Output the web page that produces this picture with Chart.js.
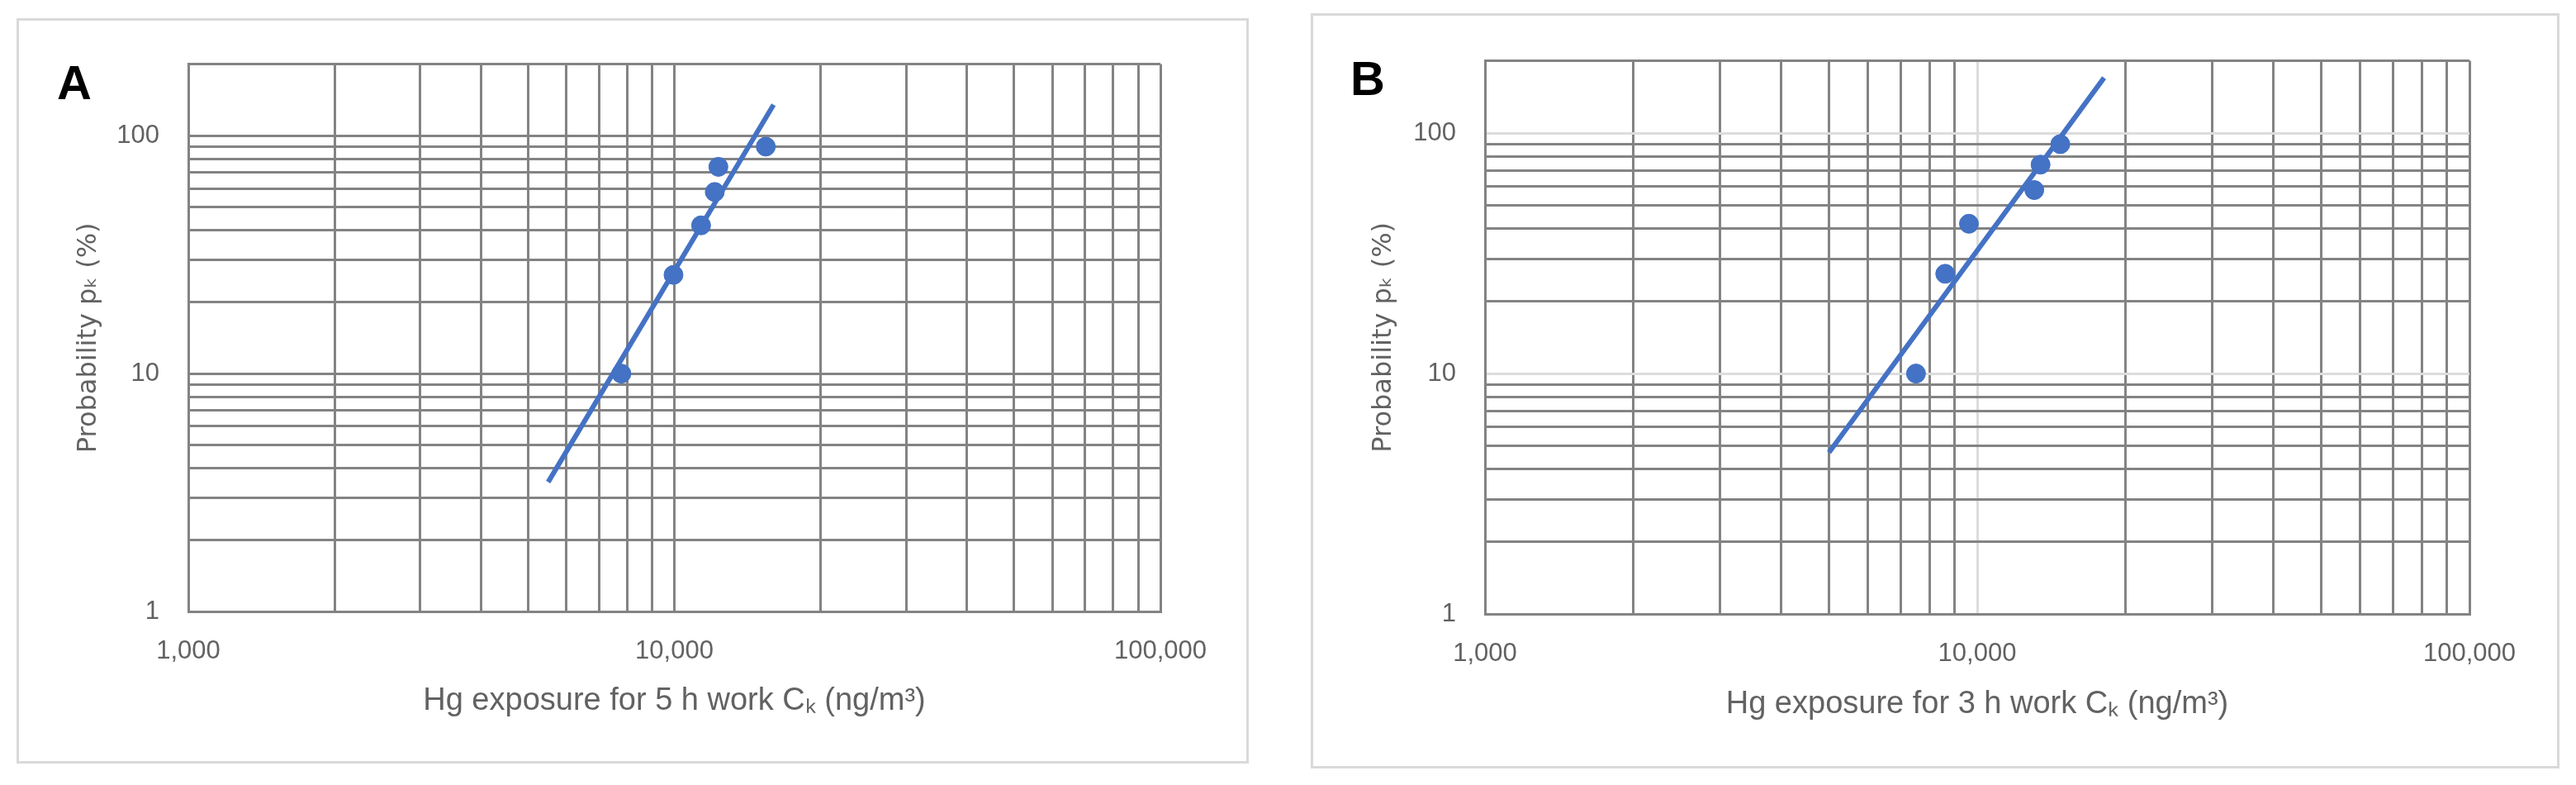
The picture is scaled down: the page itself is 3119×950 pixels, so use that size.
<!DOCTYPE html>
<html>
<head>
<meta charset="utf-8">
<script src="https://cdn.jsdelivr.net/npm/chart.js@4.4.1/dist/chart.umd.min.js"></script>
<style>
  html, body { margin: 0; padding: 0; background: #fff; }
  body { width: 3119px; height: 950px; position: relative; overflow: hidden; }
  .panel { position: absolute; border: 3px solid #d9d9d9; box-sizing: border-box; }
  .box { position: absolute; }
  .tag { position: absolute; font: bold 58px "Liberation Sans", Arial, sans-serif; color: #000; line-height: 1; }
</style>
</head>
<body>
<div class="panel" style="left:20px;top:22px;width:1492px;height:902px"></div>
<div class="panel" style="left:1587px;top:16px;width:1512px;height:914px"></div>
<div class="box" style="left:22px;top:24px;width:1488px;height:898px"><canvas id="chartA"></canvas></div>
<div class="box" style="left:1590px;top:20px;width:1506px;height:906px"><canvas id="chartB"></canvas></div>
<div class="tag" style="left:69px;top:71px">A</div>
<div class="tag" style="left:1635px;top:66px">B</div>
<script>
// grid values (log axes) and labelled ticks
const xGrid = [1000, 2000, 3000, 4000, 5000, 6000, 7000, 8000, 9000,
  10000, 20000, 30000, 40000, 50000, 60000, 70000, 80000, 90000, 100000];
const yGrid = [1, 2, 3, 4, 5, 6, 7, 8, 9, 10, 20, 30, 40, 50, 60, 70, 80, 90, 100, 200];
const xTickValues = [1000, 10000, 100000];
const xTickLabels = ['1,000', '10,000', '100,000'];
const yTickValues = [1, 10, 100];
const yTickLabels = ['1', '10', '100'];

// panel A: 5 h work
const expA = [7780, 9960, 11350, 12110, 12320, 15420];
const probA = [10, 26, 42, 58, 74, 90];
const fitAx = [5500, 16000];
const fitAy = [3.5, 135];

// panel B: 3 h work
const expB = [7510, 8610, 9620, 13060, 13450, 14750];
const probB = [10, 26, 42, 58, 74, 90];
const fitBx = [5000, 18100];
const fitBy = [4.7, 170];

const blue = '#4472C4';
const gridDark = '#838383';
const gridLight = '#dcdcdc';
const textGray = '#626262';

function pts(xs, ys) {
  return xs.map((x, i) => ({ x: x, y: ys[i] }));
}

function makeChart(id, o) {
  const gridColor = (ctx) => {
    if (!ctx.tick) return gridDark;
    return o.lightMajor.includes(ctx.tick.value) ? gridLight : gridDark;
  };
  return new Chart(document.getElementById(id), {
    type: 'scatter',
    data: {
      datasets: [
        {
          data: pts(o.xs, o.ys),
          backgroundColor: blue,
          borderColor: blue,
          pointRadius: 11.5,
          pointHoverRadius: 11.5,
          showLine: false
        },
        {
          data: pts(o.fitX, o.fitY),
          borderColor: blue,
          borderWidth: 6,
          pointRadius: 0,
          showLine: true,
          fill: false
        }
      ]
    },
    options: {
      responsive: true,
      maintainAspectRatio: false,
      animation: false,
      events: [],
      layout: { padding: { left: 0, top: o.padTop, right: o.padRight, bottom: 0 } },
      plugins: { legend: { display: false }, tooltip: { enabled: false } },
      scales: {
        x: {
          type: 'logarithmic',
          min: 1000,
          max: 100000,
          afterBuildTicks: (s) => { s.ticks = xGrid.map(v => ({ value: v })); },
          afterFit: (s) => { s.height = o.axisH; },
          grid: { color: gridColor, lineWidth: 3, drawTicks: false },
          border: { color: gridDark, width: 3 },
          ticks: {
            autoSkip: false,
            maxRotation: 0,
            padding: 30,
            color: textGray,
            font: { family: 'Liberation Sans', size: 31 },
            callback: (v) => {
              const i = xTickValues.indexOf(v);
              return i >= 0 ? xTickLabels[i] : '';
            }
          },
          title: {
            display: true,
            text: o.xTitle,
            color: textGray,
            font: { family: 'Liberation Sans', size: 38 },
            padding: { top: 0, bottom: o.xTitlePad }
          }
        },
        y: {
          type: 'logarithmic',
          min: 1,
          max: 200,
          afterBuildTicks: (s) => { s.ticks = yGrid.map(v => ({ value: v })); },
          afterFit: (s) => { s.width = o.axisW; },
          grid: { color: gridColor, lineWidth: 3, drawTicks: false },
          border: { color: gridDark, width: 3 },
          ticks: {
            autoSkip: false,
            padding: 35,
            color: textGray,
            font: { family: 'Liberation Sans', size: 31 },
            callback: (v) => {
              const i = yTickValues.indexOf(v);
              return i >= 0 ? yTickLabels[i] : '';
            }
          },
          title: {
            display: true,
            text: 'Probability p\u2096 (%)',
            color: textGray,
            font: { family: 'DejaVu Sans', size: 32 },
            padding: { top: o.yTitlePad, bottom: 0 }
          }
        }
      }
    }
  });
}

makeChart('chartA', {
  xs: expA, ys: probA, fitX: fitAx, fitY: fitAy,
  xTitle: 'Hg exposure for 5 h work C\u2096 (ng/m\u00b3)',
  lightMajor: [],
  padTop: 47, padRight: 105, axisW: 206, axisH: 182,
  xTitlePad: 51, yTitlePad: 66
});

makeChart('chartB', {
  xs: expB, ys: probB, fitX: fitBx, fitY: fitBy,
  xTitle: 'Hg exposure for 3 h work C\u2096 (ng/m\u00b3)',
  lightMajor: [10, 100, 10000],
  padTop: 45, padRight: 106, axisW: 208, axisH: 183,
  xTitlePad: 51, yTitlePad: 66
});
</script>
</body>
</html>
